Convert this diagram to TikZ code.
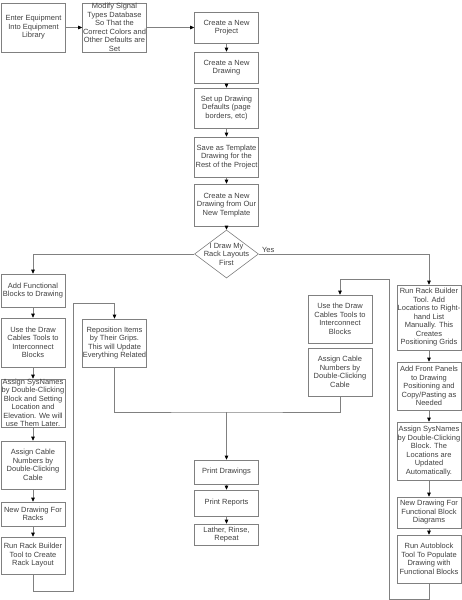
\documentclass[tikz,border=0pt]{standalone}
\usepackage{fontspec}
\setmainfont{Liberation Sans}
\usetikzlibrary{shapes.geometric,arrows.meta}

\begin{document}
\begin{tikzpicture}[x=1pt,y=-1pt,
    >={Triangle[length=4pt,width=3.5pt,color=black]},
    txt/.style={text=black!75, font=\fontsize{7.5}{8.5}\selectfont, align=center},
    decision/.style={diamond, draw=black!50, line width=.6pt, minimum width=64pt, minimum height=48pt, inner sep=0pt}]

      \useasboundingbox (0,0) rectangle (462,600);

      \begin{scope}[every node/.style={rectangle, draw=black!50, line width=.6pt, txt, inner xsep=0pt, inner ysep=1pt, minimum width=64pt}]
        \node[minimum height=49pt] (enter)  at (33.5,27.5)  {Enter Equipment\\Into Equipment\\Library};
        \node[minimum height=49pt, inner ysep=0pt] (modify) at (114.5,27.5) {Modify Signal\\Types Database\\So That the\\Correct Colors and\\Other Defaults are\\Set};

        \node[minimum height=31pt] (project)  at (226.5,27.5)  {Create a New\\Project};
        \node[minimum height=31pt] (newdraw)  at (226.5,67.5)  {Create a New\\Drawing};
        \node[minimum height=40pt] (defaults) at (226.5,108)   {Set up Drawing\\Defaults (page\\borders, etc)};
        \node[minimum height=40pt] (template) at (226.5,157)   {Save as Template\\Drawing for the\\Rest of the Project};
        \node[minimum height=42pt] (fromtpl)  at (226.5,205)   {Create a New\\Drawing from Our\\New Template};

        \node[minimum height=33pt] (addfunc)  at (33,290.5) {Add Functional\\Blocks to Drawing};
        \node[minimum height=49pt] (cablesL)  at (33,342.5) {Use the Draw\\Cables Tools to\\Interconnect\\Blocks};
        \node[minimum height=46pt, inner ysep=0pt] (sysL) at (33,403) {Assign SysNames\\by Double-Clicking\\Block and Setting\\Location and\\Elevation. We will\\use Them Later.};
        \node[minimum height=48pt] (numbersL) at (33,465)   {Assign Cable\\Numbers by\\Double-Clicking\\Cable};
        \node[minimum height=24pt] (racks)    at (33,514)   {New Drawing For\\Racks};
        \node[minimum height=37pt] (builderL) at (33,555.5) {Run Rack Builder\\Tool to Create\\Rack Layout};

        \node[minimum height=48pt] (repos)    at (114.5,343) {Reposition Items\\by Their Grips.\\This will Update\\Everything Related};

        \node[minimum height=48pt] (cablesM)  at (340,319) {Use the Draw\\Cables Tools to\\Interconnect\\Blocks};
        \node[minimum height=48pt] (numbersM) at (340,372) {Assign Cable\\Numbers by\\Double-Clicking\\Cable};

        \node[minimum height=65pt] (builderR)  at (429,317.5) {Run Rack Builder\\Tool. Add\\Locations to Right-\\hand List\\Manually. This\\Creates\\Positioning Grids};
        \node[minimum height=48pt] (panels)    at (429,386)   {Add Front Panels\\to Drawing\\Positioning and\\Copy/Pasting as\\Needed};
        \node[minimum height=58pt] (sysR)      at (429,451)   {Assign SysNames\\by Double-Clicking\\Block. The\\Locations are\\Updated\\Automatically.};
        \node[minimum height=31pt] (fbd)       at (429,512.5) {New Drawing For\\Functional Block\\Diagrams};
        \node[minimum height=48pt] (autoblock) at (429,559)   {Run Autoblock\\Tool To Populate\\Drawing with\\Functional Blocks};

        \node[minimum height=24pt] (printdraw) at (226.5,472)   {Print Drawings};
        \node[minimum height=26pt] (printrep)  at (226.5,503)   {Print Reports};
        \node[minimum height=21pt] (lather)    at (226.5,534.5) {Lather, Rinse,\\Repeat};
      \end{scope}

      \node[decision, label={[txt]center:{I Draw My\\Rack Layouts\\First}}] (dec) at (226.5,254) {};

      \coordinate (merge) at (226.5,412);

      \begin{scope}[every path/.style={draw=black!50, line width=.6pt}]
        \path[->] (enter)  edge (modify);
        \path[->] (modify) edge (project);
        \path[->] (project)  edge (newdraw);
        \path[->] (newdraw)  edge (defaults);
        \path[->] (defaults) edge (template);
        \path[->] (template) edge (fromtpl);
        \path[->] (fromtpl)  edge (dec);

        \draw[->] (dec.west) -| (addfunc.north);
        \draw[->] (dec.east) -| (builderR.north)
          node[pos=0, anchor=south west, txt, draw=none, inner sep=1pt, xshift=2pt] (yes) {Yes};

        \path[->] (addfunc)  edge (cablesL);
        \path[->] (cablesL)  edge (sysL);
        \path[->] (sysL)     edge (numbersL);
        \path[->] (numbersL) edge (racks);
        \path[->] (racks)    edge (builderL);
        \draw[->] (builderL.south) |- (73,591) -- (73,303) -| (repos.north);

        \path[->] (builderR) edge (panels);
        \path[->] (panels)   edge (sysR);
        \path[->] (sysR)     edge (fbd);
        \path[->] (fbd)      edge (autoblock);
        \draw[->] (autoblock.south) |- (389,599) -- (389,279) -| (cablesM.north);

        \draw (repos.south) |- (merge) -| (numbersM.south);
        \draw[->] (merge) -- (printdraw.north);
        \path[->] (printdraw) edge (printrep);
        \path[->] (printrep)  edge (lather);
      \end{scope}

    \end{tikzpicture}
\end{document}
